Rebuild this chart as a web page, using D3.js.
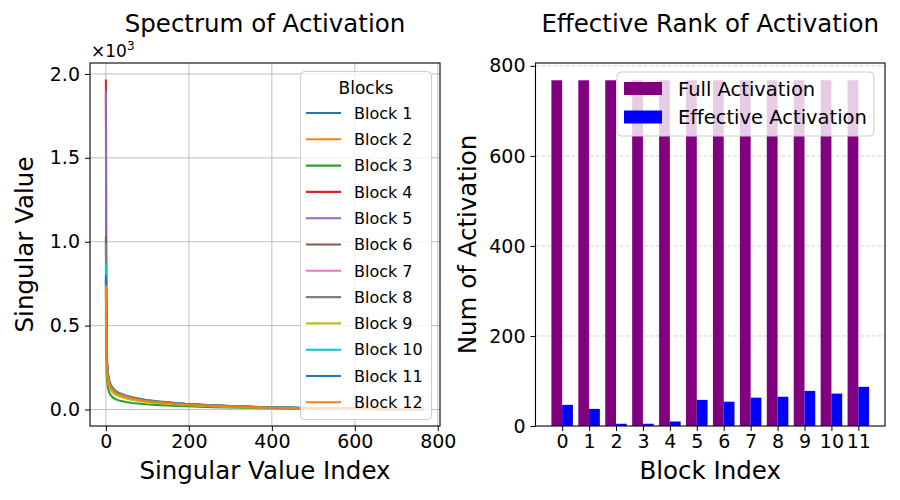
<!DOCTYPE html>
<html>
<head>
<meta charset="utf-8">
<script src="https://cdn.jsdelivr.net/npm/d3@7"></script>
<style>
  body { margin: 0; background: #fff; }
  svg text { font-family: "DejaVu Sans", sans-serif; fill: #000; }
</style>
</head>
<body>
<div id="chart"></div>
<script>
// singular value spectra, sampled at these indices (values are raw, axis shows x10^3)
var svIndex = [0, 1, 2, 3, 4, 6, 8, 12, 16, 24, 32, 48, 64, 96, 128, 192, 256, 384, 512, 640, 767];
var blockNames = ["Block 1", "Block 2", "Block 3", "Block 4", "Block 5", "Block 6",
                  "Block 7", "Block 8", "Block 9", "Block 10", "Block 11", "Block 12"];
var block1  = [780, 420, 300, 250, 215, 180, 160, 135, 120, 102, 92, 78, 68, 54, 45, 32, 24, 13, 7, 3, 0];
var block2  = [690, 380, 280, 235, 205, 172, 152, 128, 113, 96, 86, 72, 62, 49, 41, 29, 21, 11, 6, 3, 0];
var block3  = [600, 300, 210, 170, 145, 118, 102, 84, 73, 61, 54, 45, 39, 31, 26, 19, 14, 8, 4, 2, 0];
var block4  = [1967, 520, 340, 270, 230, 190, 165, 138, 122, 103, 92, 77, 67, 53, 44, 31, 23, 12, 7, 3, 0];
var block5  = [1903, 500, 330, 265, 225, 186, 162, 136, 120, 101, 90, 76, 66, 52, 43, 30, 22, 12, 7, 3, 0];
var block6  = [1035, 460, 320, 265, 230, 192, 170, 143, 127, 108, 97, 82, 71, 56, 47, 33, 25, 13, 7, 3, 0];
var block7  = [700, 400, 290, 240, 210, 176, 155, 130, 115, 98, 88, 74, 64, 50, 42, 30, 22, 12, 6, 3, 0];
var block8  = [990, 450, 320, 265, 230, 193, 171, 145, 129, 110, 99, 84, 73, 57, 48, 34, 25, 13, 7, 3, 0];
var block9  = [560, 340, 250, 210, 185, 155, 137, 115, 102, 87, 78, 66, 57, 45, 38, 27, 20, 11, 6, 3, 0];
var block10 = [870, 430, 310, 255, 220, 184, 163, 138, 122, 104, 94, 79, 69, 54, 45, 32, 24, 13, 7, 3, 0];
var block11 = [800, 420, 305, 252, 218, 182, 161, 136, 121, 103, 93, 78, 68, 54, 45, 32, 24, 13, 7, 3, 0];
var block12 = [740, 400, 290, 240, 210, 175, 155, 131, 116, 99, 89, 75, 65, 51, 43, 30, 22, 12, 6, 3, 0];
var spectra = [block1, block2, block3, block4, block5, block6, block7, block8, block9, block10, block11, block12];

var blockIndex = [0, 1, 2, 3, 4, 5, 6, 7, 8, 9, 10, 11];
var fullActivation = [768, 768, 768, 768, 768, 768, 768, 768, 768, 768, 768, 768];
var effectiveActivation = [47, 38, 5, 5, 10, 58, 54, 63, 65, 78, 72, 87];

var svXTicks = [0, 200, 400, 600, 800];
var svYTicks = [0, 500, 1000, 1500, 2000];
var rankYTicks = [0, 200, 400, 600, 800];

var tab10 = ["#1f77b4", "#ff7f0e", "#2ca02c", "#d62728", "#9467bd",
             "#8c564b", "#e377c2", "#7f7f7f", "#bcbd22", "#17becf"];

var W = 900, H = 500;
var svg = d3.select("#chart").append("svg").attr("width", W).attr("height", H);

// ---------------- left: spectrum ----------------
var L = { x0: 90, x1: 440, y0: 63, y1: 426 };
var xMax = d3.max(svIndex), yMax = d3.max(spectra, s => d3.max(s));
var x1 = d3.scaleLinear().domain([-0.05 * xMax, xMax * 1.05]).range([L.x0, L.x1]);
var y1 = d3.scaleLinear().domain([-0.05 * yMax, yMax * 1.05]).range([L.y1, L.y0]);

var left = svg.append("g");
// grid
left.append("g").selectAll("line").data(svXTicks).enter().append("line")
  .attr("x1", d => x1(d)).attr("x2", d => x1(d)).attr("y1", L.y0).attr("y2", L.y1)
  .attr("stroke", "#b0b0b0").attr("stroke-width", 0.8);
left.append("g").selectAll("line").data(svYTicks).enter().append("line")
  .attr("x1", L.x0).attr("x2", L.x1).attr("y1", d => y1(d)).attr("y2", d => y1(d))
  .attr("stroke", "#b0b0b0").attr("stroke-width", 0.8);

var clip = svg.append("defs").append("clipPath").attr("id", "clipL");
clip.append("rect").attr("x", L.x0).attr("y", L.y0).attr("width", L.x1 - L.x0).attr("height", L.y1 - L.y0);

var line = d3.line().x((d, i) => x1(svIndex[i])).y(d => y1(d));
left.append("g").attr("clip-path", "url(#clipL)")
  .selectAll("path").data(spectra).enter().append("path")
  .attr("d", d => line(d))
  .attr("fill", "none")
  .attr("stroke", (d, i) => tab10[i % 10])
  .attr("stroke-width", 2.1)
  .attr("stroke-linejoin", "round");

// axes
var axB1 = left.append("g").attr("transform", "translate(0," + L.y1 + ")")
  .call(d3.axisBottom(x1).tickValues(svXTicks).tickSize(5).tickPadding(4).tickFormat(d3.format("d")));
var axL1 = left.append("g").attr("transform", "translate(" + L.x0 + ",0)")
  .call(d3.axisLeft(y1).tickValues(svYTicks).tickSize(5).tickPadding(5).tickFormat(d => (d / 1000).toFixed(1)));
[axB1, axL1].forEach(a => {
  a.select(".domain").remove();
  a.selectAll("line").attr("stroke", "#000").attr("stroke-width", 1);
  a.selectAll("text").attr("font-size", 19).attr("font-family", "DejaVu Sans").attr("fill", "#000");
});
left.append("rect").attr("x", L.x0).attr("y", L.y0).attr("width", L.x1 - L.x0).attr("height", L.y1 - L.y0)
  .attr("fill", "none").attr("stroke", "#000").attr("stroke-width", 1.1);

// offset text x10^3
var off = left.append("text").attr("x", 91).attr("y", 57).attr("font-size", 17);
off.append("tspan").text("\u00d710");
off.append("tspan").attr("dy", -7).attr("font-size", 12).text("3");

left.append("text").attr("x", (L.x0 + L.x1) / 2).attr("y", 32).attr("text-anchor", "middle")
  .attr("font-size", 24.5).text("Spectrum of Activation");
left.append("text").attr("x", (L.x0 + L.x1) / 2).attr("y", 479).attr("text-anchor", "middle")
  .attr("font-size", 24.5).text("Singular Value Index");
left.append("text").attr("transform", "translate(33," + (L.y0 + L.y1) / 2 + ") rotate(-90)")
  .attr("text-anchor", "middle").attr("font-size", 24.5).text("Singular Value");

// legend
var lg = left.append("g");
lg.append("rect").attr("x", 300.5).attr("y", 71.5).attr("width", 131).attr("height", 348).attr("rx", 4)
  .attr("fill", "#fff").attr("fill-opacity", 0.8).attr("stroke", "#ccc").attr("stroke-width", 1);
lg.append("text").attr("x", 366).attr("y", 94).attr("text-anchor", "middle").attr("font-size", 17).text("Blocks");
var items = lg.selectAll(".item").data(blockNames).enter().append("g")
  .attr("transform", (d, i) => "translate(0," + (113 + i * 26.3) + ")");
items.append("line").attr("x1", 306).attr("x2", 341).attr("y1", 0).attr("y2", 0)
  .attr("stroke", (d, i) => tab10[i % 10]).attr("stroke-width", 2.1);
items.append("text").attr("x", 354).attr("y", 0).attr("dy", "0.36em").attr("font-size", 16).text(d => d);

// ---------------- right: effective rank ----------------
var R = { x0: 535.5, x1: 885, y0: 63, y1: 426 };
var bw = 0.4;
var x2 = d3.scaleLinear().domain([-bw - 0.05 * (11 + 2 * bw), 11 + bw + 0.05 * (11 + 2 * bw)]).range([R.x0, R.x1]);
var y2 = d3.scaleLinear().domain([0, d3.max(fullActivation) * 1.05]).range([R.y1, R.y0]);

var right = svg.append("g");
right.append("g").selectAll("line").data(rankYTicks.slice(1)).enter().append("line")
  .attr("x1", R.x0).attr("x2", R.x1).attr("y1", d => y2(d)).attr("y2", d => y2(d))
  .attr("stroke", "#b0b0b0").attr("stroke-opacity", 0.7).attr("stroke-width", 0.8).attr("stroke-dasharray", "4,2");

right.append("g").selectAll("rect").data(fullActivation).enter().append("rect")
  .attr("x", (d, i) => x2(blockIndex[i] - bw)).attr("width", x2(bw) - x2(0))
  .attr("y", d => y2(d)).attr("height", d => y2(0) - y2(d)).attr("fill", "purple");
right.append("g").selectAll("rect").data(effectiveActivation).enter().append("rect")
  .attr("x", (d, i) => x2(blockIndex[i])).attr("width", x2(bw) - x2(0))
  .attr("y", d => y2(d)).attr("height", d => y2(0) - y2(d)).attr("fill", "blue");

var axB2 = right.append("g").attr("transform", "translate(0," + R.y1 + ")")
  .call(d3.axisBottom(x2).tickValues(blockIndex).tickSize(5).tickPadding(4).tickFormat(d3.format("d")));
var axL2 = right.append("g").attr("transform", "translate(" + R.x0 + ",0)")
  .call(d3.axisLeft(y2).tickValues(rankYTicks).tickSize(5).tickPadding(5).tickFormat(d3.format("d")));
[axB2, axL2].forEach(a => {
  a.select(".domain").remove();
  a.selectAll("line").attr("stroke", "#000").attr("stroke-width", 1);
  a.selectAll("text").attr("font-size", 19).attr("font-family", "DejaVu Sans").attr("fill", "#000");
});
right.append("rect").attr("x", R.x0).attr("y", R.y0).attr("width", R.x1 - R.x0).attr("height", R.y1 - R.y0)
  .attr("fill", "none").attr("stroke", "#000").attr("stroke-width", 1.1);

right.append("text").attr("x", (R.x0 + R.x1) / 2).attr("y", 32).attr("text-anchor", "middle")
  .attr("font-size", 24.5).text("Effective Rank of Activation");
right.append("text").attr("x", (R.x0 + R.x1) / 2).attr("y", 479).attr("text-anchor", "middle")
  .attr("font-size", 24.5).text("Block Index");
right.append("text").attr("transform", "translate(476," + (R.y0 + R.y1) / 2 + ") rotate(-90)")
  .attr("text-anchor", "middle").attr("font-size", 24.5).text("Num of Activation");

var lg2 = right.append("g");
lg2.append("rect").attr("x", 617).attr("y", 72).attr("width", 257).attr("height", 64).attr("rx", 4)
  .attr("fill", "#fff").attr("fill-opacity", 0.8).attr("stroke", "#ccc").attr("stroke-width", 1);
var legItems = [["Full Activation", "purple"], ["Effective Activation", "blue"]];
var li = lg2.selectAll(".li").data(legItems).enter().append("g")
  .attr("transform", (d, i) => "translate(0," + (88.5 + i * 28.5) + ")");
li.append("rect").attr("x", 624).attr("y", -6.5).attr("width", 38).attr("height", 13).attr("fill", d => d[1]);
li.append("text").attr("x", 678).attr("y", 0).attr("dy", "0.36em").attr("font-size", 19.5).text(d => d[0]);
</script>
</body>
</html>
